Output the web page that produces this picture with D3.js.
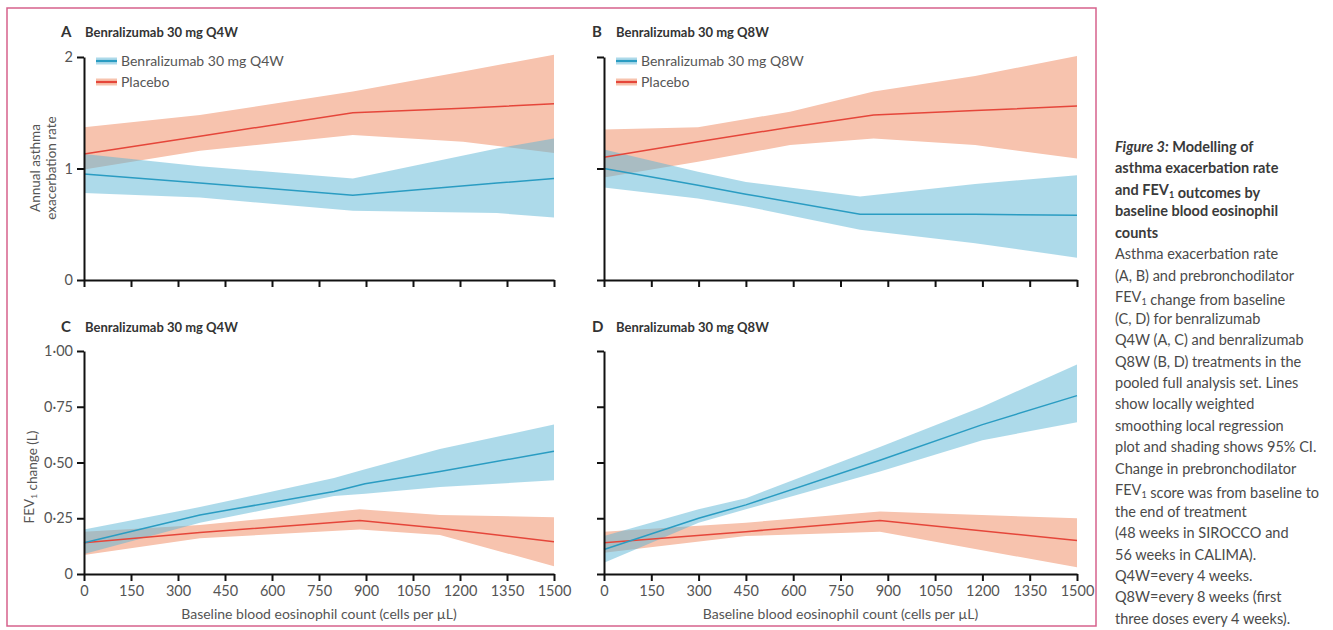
<!DOCTYPE html>
<html><head><meta charset="utf-8">
<script src="https://cdn.jsdelivr.net/npm/d3@7"></script>
<style>
body{margin:0;background:#fff}
text{font-family:Lato, "Open Sans", sans-serif}
</style>
</head><body>
<svg id="c" width="1333" height="630"></svg>
<script>
// ---------- data ----------
const xTicks = [0,150,300,450,600,750,900,1050,1200,1350,1500];
const rateTicks = [0,1,2];
const fevTicks = [0,0.25,0.5,0.75,1];

const aRedX   = [0, 370, 858, 1210, 1500];
const aRedMid = [1.13, 1.29, 1.50, 1.54, 1.58];
const aRedHi  = [1.37, 1.48, 1.69, 1.87, 2.02];
const aRedLo  = [0.99, 1.16, 1.30, 1.24, 1.14];

const aBlueX   = [0, 370, 858, 1318, 1500];
const aBlueMid = [0.95, 0.87, 0.76, 0.87, 0.91];
const aBlueHi  = [1.13, 1.02, 0.91, 1.18, 1.27];
const aBlueLo  = [0.78, 0.74, 0.62, 0.60, 0.56];

const bRedX   = [0, 298, 590, 855, 1177, 1500];
const bRedMid = [1.10, 1.24, 1.37, 1.48, 1.52, 1.56];
const bRedHi  = [1.35, 1.37, 1.51, 1.69, 1.83, 2.01];
const bRedLo  = [0.92, 1.06, 1.21, 1.27, 1.21, 1.09];

const bBlueX   = [0, 298, 450, 812, 1177, 1500];
const bBlueMid = [1.00, 0.85, 0.77, 0.59, 0.59, 0.58];
const bBlueHi  = [1.17, 0.97, 0.88, 0.75, 0.86, 0.94];
const bBlueLo  = [0.83, 0.73, 0.66, 0.45, 0.33, 0.20];

const cBlueX   = [0, 370, 798, 897, 1136, 1500];
const cBlueMid = [0.14, 0.265, 0.37, 0.405, 0.46, 0.55];
const cBlueHi  = [0.20, 0.30, 0.43, 0.47, 0.56, 0.67];
const cBlueLo  = [0.09, 0.23, 0.35, 0.36, 0.39, 0.42];

const cRedX   = [0, 370, 880, 1136, 1500];
const cRedMid = [0.14, 0.186, 0.24, 0.205, 0.145];
const cRedHi  = [0.19, 0.22, 0.29, 0.265, 0.255];
const cRedLo  = [0.085, 0.16, 0.20, 0.175, 0.035];

const dBlueX   = [0, 300, 450, 875, 1200, 1500];
const dBlueMid = [0.11, 0.25, 0.31, 0.51, 0.67, 0.80];
const dBlueHi  = [0.17, 0.29, 0.34, 0.57, 0.75, 0.94];
const dBlueLo  = [0.05, 0.23, 0.29, 0.46, 0.60, 0.68];

const dRedX   = [0, 450, 875, 1500];
const dRedMid = [0.14, 0.19, 0.24, 0.15];
const dRedHi  = [0.19, 0.23, 0.28, 0.25];
const dRedLo  = [0.095, 0.17, 0.19, 0.03];

const panelLetters = ["A","B","C","D"];
const panelTitles = ["Benralizumab 30 mg Q4W","Benralizumab 30 mg Q8W","Benralizumab 30 mg Q4W","Benralizumab 30 mg Q8W"];
const legendQ4W = ["Benralizumab 30 mg Q4W","Placebo"];
const legendQ8W = ["Benralizumab 30 mg Q8W","Placebo"];
const xTitle = "Baseline blood eosinophil count (cells per \u00b5L)";
const rateTitle = ["Annual asthma","exacerbation rate"];
const fevTitle = "FEV_1 change  (L)";

const captionHead = ["*Figure 3:* Modelling of","asthma exacerbation rate","and FEV_1 outcomes by","baseline blood eosinophil","counts"];
const captionBody = ["Asthma exacerbation rate","(A, B) and prebronchodilator","FEV_1 change from baseline","(C, D) for benralizumab","Q4W (A, C) and benralizumab","Q8W (B, D) treatments in the","pooled full analysis set. Lines","show locally weighted","smoothing local regression","plot and shading shows 95% CI.","Change in prebronchodilator","FEV_1 score was from baseline to","the end of treatment","(48 weeks in SIROCCO and","56 weeks in CALIMA).","Q4W=every 4 weeks.","Q8W=every 8 weeks (first","three doses every 4 weeks)."];

// ---------- styles ----------
const BLUE_LINE = "#2a9cc2", RED_LINE = "#e5463a";
const BLUE_BAND = "#5bb5d6", RED_BAND = "#f7c3ae";
const AXIS = "#111", TXT = "#555";

const svg = d3.select("#c");
svg.append("rect").attr("x",7).attr("y",8).attr("width",1089).attr("height",618)
  .attr("fill","none").attr("stroke","#d6628c").attr("stroke-width",1.5);

function rich(sel, str){
  const parts = str.split(/(_1|\*[^*]+\*)/);
  parts.forEach(p=>{
    if(!p) return;
    if(p==="_1"){
      sel.append("tspan").attr("font-size","0.62em").attr("dy",3).text("1");
      sel.append("tspan").attr("dy",-3).text("");
    } else if(p.startsWith("*")){
      sel.append("tspan").attr("font-style","italic").text(p.slice(1,-1));
    } else sel.append("tspan").text(p);
  });
}
const fmtFev = v => v===0 ? "0" : d3.format(".2f")(v).replace(".", "\u00b7");
const fmtRate = d3.format("d");

function zip(xs, mid, lo, hi){ return xs.map((x,i)=>({x, m:mid[i], lo:lo[i], hi:hi[i]})); }

const panels = [
  {L:84, R:554, T:57, B:280, dom:[0,2], ticks:rateTicks, fmt:fmtRate, ylab:true, xlab:false,
   red:zip(aRedX,aRedMid,aRedLo,aRedHi), blue:zip(aBlueX,aBlueMid,aBlueLo,aBlueHi), legend:legendQ4W, ty:37},
  {L:604, R:1077, T:57, B:280, dom:[0,2], ticks:rateTicks, fmt:fmtRate, ylab:false, xlab:false,
   red:zip(bRedX,bRedMid,bRedLo,bRedHi), blue:zip(bBlueX,bBlueMid,bBlueLo,bBlueHi), legend:legendQ8W, ty:37},
  {L:84, R:554, T:351, B:574, dom:[0,1], ticks:fevTicks, fmt:fmtFev, ylab:true, xlab:true,
   red:zip(cRedX,cRedMid,cRedLo,cRedHi), blue:zip(cBlueX,cBlueMid,cBlueLo,cBlueHi), legend:null, ty:332},
  {L:604, R:1077, T:351, B:574, dom:[0,1], ticks:fevTicks, fmt:fmtFev, ylab:false, xlab:true,
   red:zip(dRedX,dRedMid,dRedLo,dRedHi), blue:zip(dBlueX,dBlueMid,dBlueLo,dBlueHi), legend:null, ty:332}
];

panels.forEach((p,i)=>{
  const x = d3.scaleLinear().domain([0,1500]).range([p.L,p.R]);
  const y = d3.scaleLinear().domain(p.dom).range([p.B,p.T]);
  const g = svg.append("g");
  const area = d3.area().x(d=>x(d.x)).y0(d=>y(d.lo)).y1(d=>y(d.hi));
  const line = d3.line().x(d=>x(d.x)).y(d=>y(d.m));
  g.append("path").datum(p.red).attr("d",area).attr("fill",RED_BAND);
  g.append("path").datum(p.blue).attr("d",area).attr("fill",BLUE_BAND).attr("fill-opacity",0.5);
  g.append("path").datum(p.red).attr("d",line).attr("fill","none").attr("stroke",RED_LINE).attr("stroke-width",1.5);
  g.append("path").datum(p.blue).attr("d",line).attr("fill","none").attr("stroke",BLUE_LINE).attr("stroke-width",1.5);

  const xa = g.append("g").attr("transform",`translate(0,${p.B})`)
    .call(d3.axisBottom(x).tickValues(xTicks).tickSize(7).tickSizeOuter(0).tickPadding(5)
      .tickFormat(p.xlab ? d3.format("d") : ""));
  const ya = g.append("g").attr("transform",`translate(${p.L},0)`)
    .call(d3.axisLeft(y).tickValues(p.ticks).tickSize(7).tickSizeOuter(0).tickPadding(4)
      .tickFormat(p.ylab ? p.fmt : ""));
  [xa,ya].forEach(a=>{
    a.select(".domain").attr("stroke",AXIS).attr("stroke-width",2);
    a.selectAll(".tick line").attr("stroke",AXIS).attr("stroke-width",2);
    a.selectAll(".tick text").attr("fill",TXT).attr("font-size",14.5).attr("font-family","Lato");
  });

  const lx = p.L < 300 ? 61 : 592;
  svg.append("text").attr("x",lx).attr("y",p.ty).attr("font-size",15).attr("font-weight",700)
    .attr("fill","#333").text(panelLetters[i]);
  svg.append("text").attr("x",lx+24).attr("y",p.ty).attr("font-size",13).attr("font-weight",700)
    .attr("fill","#333").text(panelTitles[i]);

  if(p.legend){
    const lg = svg.append("g");
    [[BLUE_BAND,BLUE_LINE,0.5],[RED_BAND,RED_LINE,1]].forEach((c,k)=>{
      const yy = 61 + k*21;
      lg.append("rect").attr("x",p.L+12).attr("y",yy-3.5).attr("width",21).attr("height",7)
        .attr("fill",c[0]).attr("fill-opacity",c[2]);
      lg.append("line").attr("x1",p.L+12).attr("x2",p.L+33).attr("y1",yy).attr("y2",yy)
        .attr("stroke",c[1]).attr("stroke-width",2.2);
      lg.append("text").attr("x",p.L+37).attr("y",yy+5).attr("font-size",14).attr("fill",TXT).text(p.legend[k]);
    });
  }
  if(p.xlab){
    svg.append("text").attr("x",(p.L+p.R)/2).attr("y",619).attr("text-anchor","middle")
      .attr("font-size",14).attr("fill",TXT).text(xTitle);
  }
});

rateTitle.forEach((t,k)=>{
  svg.append("text").attr("transform",`translate(${40+k*16},168) rotate(-90)`)
    .attr("text-anchor","middle").attr("font-size",13.5).attr("fill",TXT).text(t);
});
const ft = svg.append("text").attr("transform",`translate(34,477) rotate(-90)`)
  .attr("text-anchor","middle").attr("font-size",13.5).attr("fill",TXT);
rich(ft, fevTitle);

const cap = svg.append("g");
const LH = 21.45;
captionHead.forEach((t,k)=>{
  const tx = cap.append("text").attr("x",1115).attr("y",152+k*LH).attr("font-size",14.5)
    .attr("font-weight",700).attr("fill","#3a3a3a");
  rich(tx,t);
});
captionBody.forEach((t,k)=>{
  const tx = cap.append("text").attr("x",1115).attr("y",152+(k+5)*LH).attr("font-size",14.5)
    .attr("fill","#4a4a4a");
  rich(tx,t);
});
</script>
</body></html>
